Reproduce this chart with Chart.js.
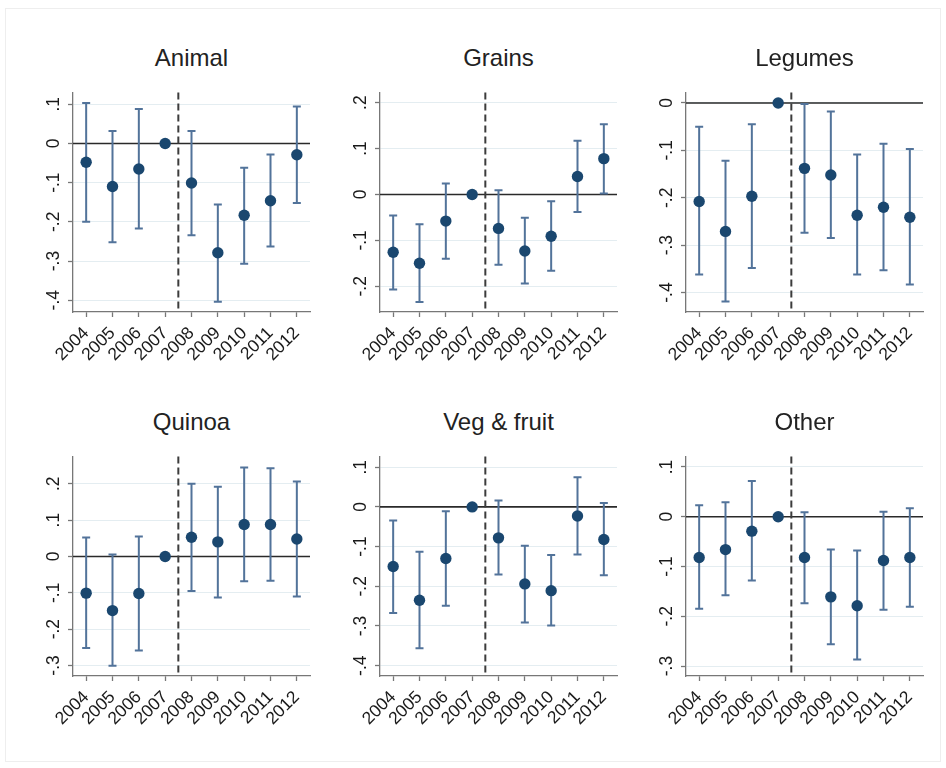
<!DOCTYPE html>
<html>
<head>
<meta charset="utf-8">
<script src="https://cdn.jsdelivr.net/npm/chart.js@4/dist/chart.umd.min.js"></script>
<style>
  html, body { margin: 0; padding: 0; background: #ffffff; }
  body { width: 946px; height: 768px; position: relative; overflow: hidden;
         font-family: "Liberation Sans", Arial, sans-serif; }
  .frame { position: absolute; left: 5px; top: 8px; width: 936px; height: 754px;
           border: 1px solid #eeeeee; box-sizing: border-box; }
  .panel { position: absolute; }
  .ttl { position: absolute; text-align: center; font-size: 24px; line-height: 28px;
         color: #222222; white-space: nowrap; }
</style>
</head>
<body>
<div class="frame"></div>
<script>
// Event-study estimates by year (2007 = reference year, fixed at zero)
const years = [2004, 2005, 2006, 2007, 2008, 2009, 2010, 2011, 2012];
const breakYear = 2007.5;

const animalEst = [-0.048, -0.110, -0.065, 0, -0.101, -0.279, -0.183, -0.146, -0.029];
const animalLo  = [-0.200, -0.252, -0.217, null, -0.234, -0.404, -0.307, -0.263, -0.152];
const animalHi  = [ 0.103,  0.032,  0.088, null,  0.032, -0.156, -0.062, -0.028,  0.094];

const grainsEst = [-0.126, -0.150, -0.058, 0, -0.074, -0.123, -0.091, 0.039, 0.078];
const grainsLo  = [-0.207, -0.234, -0.140, null, -0.153, -0.194, -0.166, -0.038, 0.002];
const grainsHi  = [-0.046, -0.065,  0.024, null,  0.009, -0.051, -0.015,  0.117, 0.153];

const legumesEst = [-0.208, -0.271, -0.197, 0, -0.138, -0.152, -0.237, -0.220, -0.241];
const legumesLo  = [-0.362, -0.419, -0.348, null, -0.274, -0.285, -0.362, -0.353, -0.383];
const legumesHi  = [-0.050, -0.122, -0.045, null, -0.002, -0.018, -0.109, -0.086, -0.097];

const quinoaEst = [-0.101, -0.149, -0.102, 0, 0.053, 0.040, 0.088, 0.088, 0.048];
const quinoaLo  = [-0.252, -0.301, -0.259, null, -0.095, -0.113, -0.068, -0.067, -0.110];
const quinoaHi  = [ 0.052,  0.005,  0.055, null,  0.200,  0.192,  0.245,  0.243,  0.206];

const vegEst = [-0.150, -0.235, -0.130, 0, -0.078, -0.194, -0.211, -0.023, -0.082];
const vegLo  = [-0.267, -0.356, -0.249, null, -0.170, -0.291, -0.299, -0.120, -0.172];
const vegHi  = [-0.034, -0.113, -0.011, null,  0.016, -0.098, -0.121,  0.075,  0.010];

const otherEst = [-0.082, -0.066, -0.029, 0, -0.082, -0.161, -0.179, -0.088, -0.082];
const otherLo  = [-0.185, -0.158, -0.128, null, -0.174, -0.256, -0.287, -0.187, -0.181];
const otherHi  = [ 0.023,  0.029,  0.072, null,  0.009, -0.066, -0.068,  0.010,  0.017];

// y-axis ticks and ranges for each panel
const animalTicks  = [0.1, 0, -0.1, -0.2, -0.3, -0.4];
const grainsTicks  = [0.2, 0.1, 0, -0.1, -0.2];
const legumesTicks = [0, -0.1, -0.2, -0.3, -0.4];
const quinoaTicks  = [0.2, 0.1, 0, -0.1, -0.2, -0.3];
const vegTicks     = [0.1, 0, -0.1, -0.2, -0.3, -0.4];
const otherTicks   = [0.1, 0, -0.1, -0.2, -0.3];

const animalRange  = [-0.430, 0.130];
const grainsRange  = [-0.256, 0.222];
const legumesRange = [-0.441, 0.022];
const quinoaRange  = [-0.329, 0.275];
const vegRange     = [-0.426, 0.127];
const otherRange   = [-0.320, 0.121];

const panels = [
  { title: 'Animal',      est: animalEst,  lo: animalLo,  hi: animalHi,  ticks: animalTicks,  range: animalRange },
  { title: 'Grains',      est: grainsEst,  lo: grainsLo,  hi: grainsHi,  ticks: grainsTicks,  range: grainsRange },
  { title: 'Legumes',     est: legumesEst, lo: legumesLo, hi: legumesHi, ticks: legumesTicks, range: legumesRange },
  { title: 'Quinoa',      est: quinoaEst,  lo: quinoaLo,  hi: quinoaHi,  ticks: quinoaTicks,  range: quinoaRange },
  { title: 'Veg & fruit', est: vegEst,     lo: vegLo,     hi: vegHi,     ticks: vegTicks,     range: vegRange },
  { title: 'Other',       est: otherEst,   lo: otherLo,   hi: otherHi,   ticks: otherTicks,   range: otherRange }
];

// Grid geometry (plot-area placement on the page)
const colLeft = [73, 380, 686];
const rowTop = [90, 454];
const plotW = 237, plotH = 222;
const padL = 56, padT = 12, padR = 14, padB = 66;

const pointColor = '#1a476f';
const barColor = '#52739a';
const axisColor = '#777777';
const gridColor = '#e4edf1';
const tickFont = { family: '"Liberation Sans", Arial, sans-serif', size: 17.5 };

// Stata-style labels: .1, 0, -.1 ...
function fmtTick(v) {
  if (Math.abs(v) < 1e-9) return '0';
  const d = Math.round(Math.abs(v) * 10);
  return (v < 0 ? '-' : '') + '.' + d;
}

// Zero reference line and the dashed break line between 2007 and 2008
const refLines = {
  id: 'refLines',
  beforeDatasetsDraw(chart) {
    const { ctx, chartArea: a, scales: { x, y } } = chart;
    ctx.save();
    const y0 = y.getPixelForValue(0);
    ctx.strokeStyle = '#2a2a2a';
    ctx.lineWidth = 1.6;
    ctx.beginPath();
    ctx.moveTo(a.left, y0);
    ctx.lineTo(a.right, y0);
    ctx.stroke();
    const xb = x.getPixelForValue(breakYear);
    ctx.strokeStyle = '#3c3c3c';
    ctx.lineWidth = 2;
    ctx.setLineDash([7, 4]);
    ctx.beginPath();
    ctx.moveTo(xb, a.top);
    ctx.lineTo(xb, a.bottom);
    ctx.stroke();
    ctx.restore();
  }
};

// Capped confidence-interval spikes
const errorBars = {
  id: 'errorBars',
  beforeDatasetsDraw(chart, args, opts) {
    const { ctx, scales: { x, y } } = chart;
    const lo = opts.lo, hi = opts.hi;
    ctx.save();
    ctx.strokeStyle = barColor;
    ctx.lineWidth = 2;
    ctx.lineCap = 'butt';
    years.forEach((yr, i) => {
      if (lo[i] === null || hi[i] === null) return;
      const px = x.getPixelForValue(yr);
      const pl = y.getPixelForValue(lo[i]);
      const ph = y.getPixelForValue(hi[i]);
      ctx.beginPath();
      ctx.moveTo(px, pl); ctx.lineTo(px, ph);
      ctx.moveTo(px - 4, pl); ctx.lineTo(px + 4, pl);
      ctx.moveTo(px - 4, ph); ctx.lineTo(px + 4, ph);
      ctx.stroke();
    });
    ctx.restore();
  }
};

panels.forEach((p, k) => {
  const col = k % 3, row = Math.floor(k / 3);
  const left = colLeft[col] - padL, top = rowTop[row] - padT;
  const w = padL + plotW + padR, h = padT + plotH + padB;

  const wrap = document.createElement('div');
  wrap.className = 'panel';
  wrap.style.left = left + 'px';
  wrap.style.top = top + 'px';
  wrap.style.width = w + 'px';
  wrap.style.height = h + 'px';
  const cv = document.createElement('canvas');
  wrap.appendChild(cv);
  document.body.appendChild(wrap);

  const t = document.createElement('div');
  t.className = 'ttl';
  t.textContent = p.title;
  t.style.left = colLeft[col] + 'px';
  t.style.width = plotW + 'px';
  t.style.top = (rowTop[row] - 46) + 'px';
  document.body.appendChild(t);

  new Chart(cv, {
    type: 'scatter',
    data: {
      datasets: [{
        data: years.map((yr, i) => ({ x: yr, y: p.est[i] })),
        backgroundColor: pointColor,
        borderWidth: 0,
        pointRadius: 5.7
      }]
    },
    options: {
      responsive: true,
      maintainAspectRatio: false,
      animation: false,
      events: [],
      layout: { padding: { left: padL - 40, top: padT, right: padR, bottom: 0 } },
      plugins: {
        legend: { display: false },
        tooltip: { enabled: false },
        title: { display: false },
        errorBars: { lo: p.lo, hi: p.hi }
      },
      scales: {
        x: {
          type: 'linear',
          min: 2003.5,
          max: 2012.5,
          afterBuildTicks: s => { s.ticks = years.map(v => ({ value: v })); },
          afterFit: s => { s.height = padB; },
          ticks: {
            autoSkip: false,
            minRotation: 45,
            maxRotation: 45,
            padding: 6,
            color: '#1a1a1a',
            font: tickFont,
            callback: v => String(v)
          },
          grid: { drawOnChartArea: false, tickLength: 5, tickColor: axisColor, tickWidth: 1.3 },
          border: { color: axisColor, width: 1.3 }
        },
        y: {
          type: 'linear',
          min: p.range[0],
          max: p.range[1],
          afterBuildTicks: s => { s.ticks = p.ticks.map(v => ({ value: v })); },
          afterFit: s => { s.width = 40; },
          ticks: {
            minRotation: 90,
            maxRotation: 90,
            crossAlign: 'center',
            padding: 4,
            color: '#1a1a1a',
            font: tickFont,
            callback: v => fmtTick(v)
          },
          grid: { color: gridColor, lineWidth: 1, tickLength: 5, tickColor: axisColor, tickWidth: 1.3 },
          border: { color: axisColor, width: 1.3 }
        }
      }
    },
    plugins: [refLines, errorBars]
  });
});
</script>
</body>
</html>
